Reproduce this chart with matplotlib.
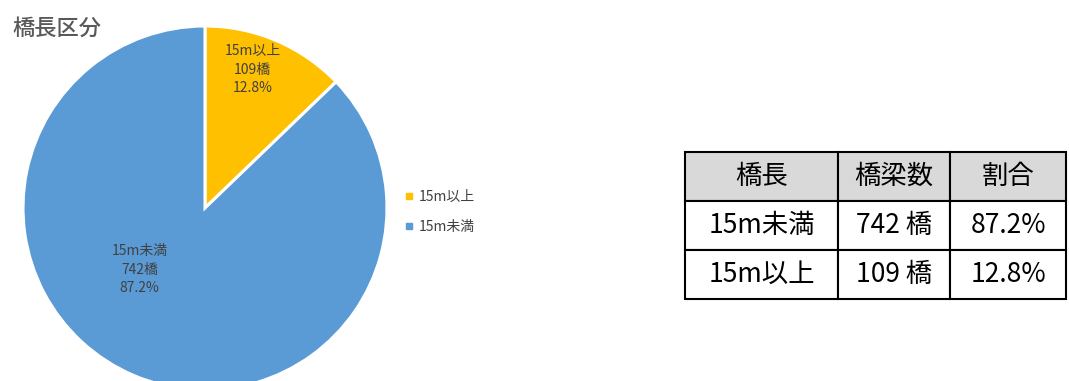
import matplotlib.pyplot as plt
from matplotlib.lines import Line2D

plt.rcParams['font.family'] = ['Noto Sans CJK JP', 'DejaVu Sans']

categories = ['15m以上', '15m未満']
counts = [109, 742]
colors = ['#FFC000', '#5B9BD5']

table_header = ['橋長', '橋梁数', '割合']
table_order = ['15m未満', '15m以上']

total = sum(counts)
shares = [c / total * 100 for c in counts]

W, H = 1069, 381
fig = plt.figure(figsize=(W / 100, H / 100), dpi=100)

# pie, radius 182px centered at (205, 208)
ax = fig.add_axes([23 / W, (H - 208 - 182) / H, 364 / W, 364 / H])
wedges, _ = ax.pie(counts, colors=colors, startangle=90, counterclock=False,
                   wedgeprops=dict(edgecolor='white', linewidth=2.2))
ax.set_xlim(-1, 1)
ax.set_ylim(-1, 1)
ax.set_aspect('equal')
ax.axis('off')

label_pos = [(0.26, 0.76), (-0.36, -0.34)]
for (x, y), cat, n, pct in zip(label_pos, categories, counts, shares):
    ax.text(x, y, f'{cat}\n{n}橋\n{pct:.1f}%', ha='center', va='center',
            fontsize=10, color='#404040', linespacing=1.4)

fig.text(12 / W, 1 - 28 / H, '橋長区分', fontsize=16, color='#595959',
         fontweight='medium', ha='left', va='center')

handles = [Line2D([], [], marker='s', linestyle='none', markersize=5,
                  markerfacecolor=c, markeredgecolor=c) for c in colors]
fig.legend(handles, categories, loc='center left',
           bbox_to_anchor=(392 / W, 1 - 212 / H), frameon=False,
           fontsize=10, labelcolor='#404040', handlelength=0.6,
           handletextpad=0.4, labelspacing=1.2)

# table
tax = fig.add_axes([0, 0, 1, 1])
tax.axis('off')
rows = []
for cat in table_order:
    i = categories.index(cat)
    rows.append([cat, f'{counts[i]} 橋', f'{shares[i]:.1f}%'])
col_w = [153, 112, 116]
tbl = tax.table(cellText=rows, colLabels=table_header, cellLoc='center',
                colWidths=[w / sum(col_w) for w in col_w],
                bbox=[685 / W, (H - 299) / H, 381 / W, 147 / H])
tbl.auto_set_font_size(False)
for (r, c), cell in tbl.get_celld().items():
    cell.set_fontsize(19)
    cell.set_linewidth(1.5)
    cell.set_edgecolor('black')
    if r == 0:
        cell.set_facecolor('#D9D9D9')

fig.savefig('out.png', dpi=100)
